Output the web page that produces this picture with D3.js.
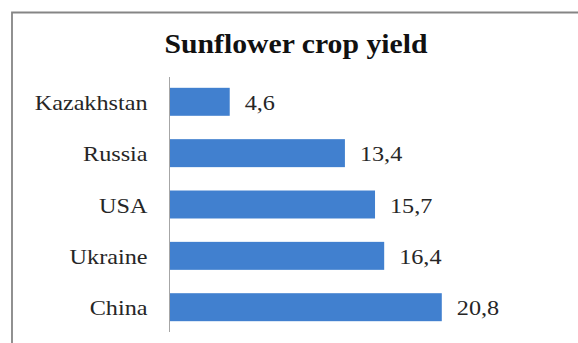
<!DOCTYPE html>
<html>
<head>
<meta charset="utf-8">
<script src="https://cdn.jsdelivr.net/npm/d3@7"></script>
<style>
    body { margin: 0; background: #fff; }
    svg text { font-family: "Liberation Serif", "Times New Roman", serif; }
</style>
</head>
<body>
<svg id="chart" width="578" height="343"></svg>
<script>
// Data
const countries = ['Kazakhstan', 'Russia', 'USA', 'Ukraine', 'China'];
const yields = [4.6, 13.4, 15.7, 16.4, 20.8];
const chartTitle = 'Sunflower crop yield';

/**
 * Visual configs.
 */
const width = 578, height = 343,
    axisX = 169.5,
    stretch = 1.1, // the source picture is a little wider than tall
    barColor = '#4180cf',
    textColor = '#262626';

const svg = d3.select('#chart');

// comma as decimal mark
const fmt = d3.formatLocale({ decimal: ',', thousands: ' ', grouping: [3], currency: ['', ''] }).format('.1f');

const x = d3.scaleLinear().domain([0, 22]).range([axisX, axisX + 288]);
const y = d3.scaleBand().domain(countries).range([76, 333]).paddingInner(0.455).paddingOuter(0.23);

const rows = countries.map((c, i) => ({ name: c, value: yields[i] }));

// Frame
svg.append('path')
    .attr('d', `M12,${height} V12.5 H${width}`)
    .attr('fill', 'none')
    .attr('stroke', '#858585')
    .attr('stroke-width', 1.8);

// Title
svg.append('text')
    .attr('transform', `translate(296,53) scale(${stretch},1)`)
    .attr('text-anchor', 'middle')
    .attr('font-size', 27)
    .attr('font-weight', 'bold')
    .attr('fill', '#111')
    .text(chartTitle);

// Bars
svg.append('g').attr('class', 'bars')
    .selectAll('rect')
    .data(rows)
    .join('rect')
        .attr('x', x(0))
        .attr('y', d => y(d.name))
        .attr('width', d => x(d.value) - x(0))
        .attr('height', y.bandwidth())
        .attr('fill', barColor);

// Category axis line
svg.append('line')
    .attr('x1', axisX).attr('x2', axisX)
    .attr('y1', 77).attr('y2', 332)
    .attr('stroke', '#a6a6a6')
    .attr('stroke-width', 1);

// Category labels
svg.append('g').attr('class', 'cats')
    .selectAll('text')
    .data(rows)
    .join('text')
        .attr('transform', d => `translate(${axisX - 22},${y(d.name) + y.bandwidth() / 2 + 8}) scale(${stretch},1)`)
        .attr('text-anchor', 'end')
        .attr('font-size', 22)
        .attr('fill', textColor)
        .text(d => d.name);

// Value labels
svg.append('g').attr('class', 'values')
    .selectAll('text')
    .data(rows)
    .join('text')
        .attr('transform', d => `translate(${x(d.value) + 15},${y(d.name) + y.bandwidth() / 2 + 8}) scale(${stretch},1)`)
        .attr('font-size', 22)
        .attr('fill', textColor)
        .text(d => fmt(d.value));
</script>
</body>
</html>
